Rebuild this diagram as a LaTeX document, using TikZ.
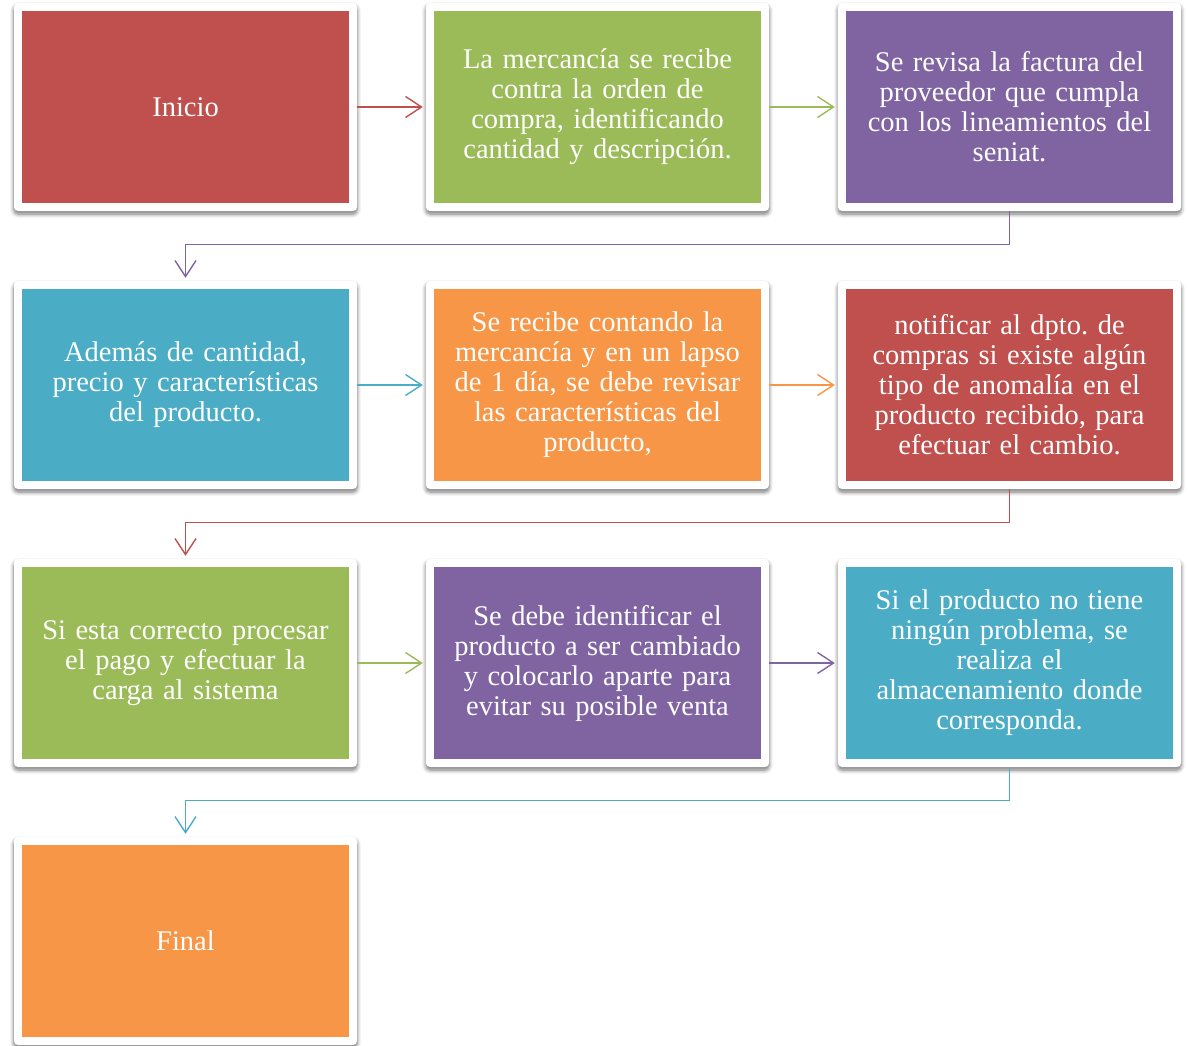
\documentclass[tikz,border=0pt]{standalone}
\usepackage{fontspec}
\setmainfont{Liberation Serif}
\usepackage{tikz}
\usetikzlibrary{arrows.meta,positioning,shadows.blur}

\definecolor{boxred}{HTML}{C0504D}
\definecolor{boxgreen}{HTML}{9BBB59}
\definecolor{boxpurple}{HTML}{8064A2}
\definecolor{boxblue}{HTML}{4BACC6}
\definecolor{boxorange}{HTML}{F79646}

\begin{document}
\frenchspacing
\begin{tikzpicture}[
    x=1pt, y=-1pt,
    stepbox/.style={rectangle, fill=white, rounded corners=4pt,
        minimum width=343pt, minimum height=208pt, inner sep=0pt,
        blur shadow={shadow xshift=0pt, shadow yshift=-3pt, shadow blur steps=6, shadow blur radius=4pt, shadow opacity=55},
        path picture={\fill[#1, sharp corners]
            ([xshift=8pt,yshift=8pt]path picture bounding box.south west) rectangle
            ([xshift=-8pt,yshift=-8pt]path picture bounding box.north east);},
        text=white, text width=320pt, align=center,
        font=\fontsize{28.5}{30}\selectfont},
    flow/.style={draw=#1, line width=1.4pt,
        -{Straight Barb[length=16pt,width=21pt,line width=1.4pt]}, shorten >=3pt}
]
    \useasboundingbox (0,0) rectangle (1188,1045);

    % Fila 1
    \node[stepbox=boxred] (inicio) at (185.5,107) {Inicio};
    \node[stepbox=boxgreen] (recibe) at (597.5,107) {La mercancía se recibe\\contra la orden de\\compra, identificando\\cantidad y descripción.};
    \node[stepbox=boxpurple] (factura) at (1009.5,107) {Se revisa la factura del\\proveedor que cumpla\\con los lineamientos del\\seniat.};
    \draw[flow=boxred] (inicio) -- (recibe);
    \draw[flow=boxgreen] (recibe) -- (factura);

    % Fila 2
    \node[stepbox=boxblue] (cantidad) at (185.5,385) {Además de cantidad,\\precio y características\\del producto.};
    \node[stepbox=boxorange] (contando) at (597.5,385) {Se recibe contando la\\mercancía y en un lapso\\de 1 día, se debe revisar\\las características del\\producto,};
    \node[stepbox=boxred] (notificar) at (1009.5,385) {notificar al dpto. de\\compras si existe algún\\tipo de anomalía en el\\producto recibido, para\\efectuar el cambio.};
    \draw[flow=boxpurple] (factura.south) -- ++(0,33) -| (cantidad.north);
    \draw[flow=boxblue] (cantidad) -- (contando);
    \draw[flow=boxorange] (contando) -- (notificar);

    % Fila 3
    \node[stepbox=boxgreen] (pago) at (185.5,663) {Si esta correcto procesar\\el pago y efectuar la\\carga al sistema};
    \node[stepbox=boxpurple] (aparte) at (597.5,663) {Se debe identificar el\\producto a ser cambiado\\y colocarlo aparte para\\evitar su posible venta};
    \node[stepbox=boxblue] (almacen) at (1009.5,663) {Si el producto no tiene\\ningún problema, se\\realiza el\\almacenamiento donde\\corresponda.};
    \draw[flow=boxred] (notificar.south) -- ++(0,33) -| (pago.north);
    \draw[flow=boxgreen] (pago) -- (aparte);
    \draw[flow=boxpurple] (aparte) -- (almacen);

    % Fila 4
    \node[stepbox=boxorange] (final) at (185.5,941) {Final};
    \draw[flow=boxblue] (almacen.south) -- ++(0,33) -| (final.north);

\end{tikzpicture}
\end{document}
